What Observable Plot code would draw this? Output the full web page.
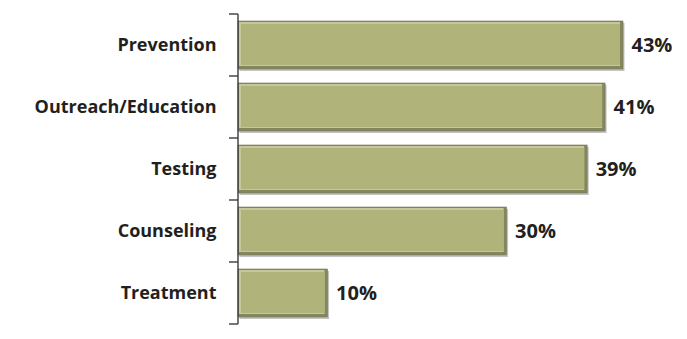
<!DOCTYPE html>
<html>
<head>
<meta charset="utf-8">
<script src="https://cdn.jsdelivr.net/npm/d3@7"></script>
<script src="https://cdn.jsdelivr.net/npm/@observablehq/plot@0.6"></script>
<style>
  html, body { margin: 0; padding: 0; background: #fff; }
  #chart svg { display: block; }
</style>
</head>
<body>
<div id="chart"></div>
<script>
const categories = ["Prevention", "Outreach/Education", "Testing", "Counseling", "Treatment"];
const values = [43, 41, 39, 30, 10];
const valueLabels = ["43%", "41%", "39%", "30%", "10%"];

const data = categories.map((c, i) => ({category: c, value: values[i], label: valueLabels[i]}));

const axisMark = Plot.ruleX([0], {
  render(index, scales, values, dims, context) {
    const g = d3.create("svg:g");
    const y = scales.y;
    const x0 = scales.x(0);
    const step = typeof y.step === "function" ? y.step() : y.step;
    const bw = typeof y.bandwidth === "function" ? y.bandwidth() : y.bandwidth;
    const off = (step - bw) / 2;
    const bounds = categories.map(c => y(c) - off);
    bounds.push(y(categories[categories.length - 1]) + bw + off);
    g.append("line")
      .attr("x1", x0).attr("x2", x0)
      .attr("y1", bounds[0]).attr("y2", bounds[bounds.length - 1])
      .attr("stroke", "#3b3b3b").attr("stroke-width", 1.4);
    for (const b of bounds) {
      g.append("line")
        .attr("x1", x0 - 9).attr("x2", x0)
        .attr("y1", b).attr("y2", b)
        .attr("stroke", "#3b3b3b").attr("stroke-width", 1.4);
    }
    return g.node();
  }
});

const chart = Plot.plot({
  width: 687,
  height: 339,
  marginLeft: 238,
  marginRight: 64,
  marginTop: 13,
  marginBottom: 14,
  style: {fontFamily: "'Open Sans', sans-serif", background: "#fff"},
  x: {domain: [0, 43], axis: null},
  y: {domain: categories, paddingInner: 0.23, paddingOuter: 0.115, label: null},
  marks: [
    // shadow
    Plot.barX(data, {x: "value", y: "category", fill: "#c4c4c4", dx: 1.5, dy: 2}),
    // dark outer edge
    Plot.barX(data, {x: "value", y: "category", fill: "#84875c", stroke: "#7a7b62", strokeWidth: 0.6}),
    // highlight (top/left)
    Plot.barX(data, {x: "value", y: "category", fill: "#c6c899", insetLeft: 1, insetTop: 1, insetRight: 3, insetBottom: 3}),
    // main face
    Plot.barX(data, {x: "value", y: "category", fill: "#b0b47b", insetLeft: 3, insetTop: 3, insetRight: 3, insetBottom: 4}),
    Plot.text(data, {x: "value", y: "category", text: "label", dx: 8, textAnchor: "start",
      fontSize: 20, fontWeight: "bold", fill: "#231f20"}),
    Plot.axisY({tickSize: 0, tickPadding: 22, fontSize: 18, fontWeight: "bold", fill: "#231f20", label: null}),
    axisMark
  ]
});
document.getElementById("chart").appendChild(chart);
</script>
</body>
</html>
